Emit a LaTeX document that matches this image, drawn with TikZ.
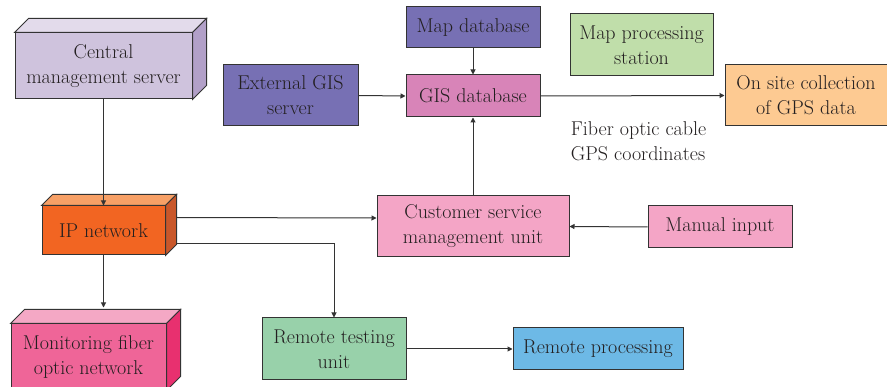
\documentclass[tikz,border=0pt]{standalone}
\usepackage{tikz}
\usetikzlibrary{calc,arrows.meta}

\definecolor{lav}{HTML}{CFC3DD}
\definecolor{lavtop}{HTML}{E3DBEB}
\definecolor{lavside}{HTML}{B2A0C8}
\definecolor{ipor}{HTML}{F26522}
\definecolor{iportop}{HTML}{F7A066}
\definecolor{iporside}{HTML}{C9572A}
\definecolor{mon}{HTML}{EF6598}
\definecolor{montop}{HTML}{F4A8C5}
\definecolor{monside}{HTML}{E8306F}
\definecolor{violet}{HTML}{7770B4}
\definecolor{gisdb}{HTML}{D884B8}
\definecolor{mapst}{HTML}{C0DEAA}
\definecolor{gpsor}{HTML}{FDCA92}
\definecolor{csmu}{HTML}{F4A5C6}
\definecolor{rtest}{HTML}{98D1AA}
\definecolor{rproc}{HTML}{6DB9E6}
\definecolor{edge}{HTML}{333333}
\definecolor{ink}{HTML}{231F20}

% top and right faces of a 3D box: name, top colour, side colour, depth
\newcommand{\boxfaces}[4]{
  \draw[box,fill=#2] (#1.north west) -- ++(#4,-#4) -- ($(#1.north east)+(#4,-#4)$) -- (#1.north east) -- cycle;
  \draw[box,fill=#3] (#1.north east) -- ++(#4,-#4) -- ($(#1.south east)+(#4,-#4)$) -- (#1.south east) -- cycle;
}

\begin{document}
\begin{tikzpicture}[x=1pt,y=-1pt,
    box/.style={draw=edge,line width=1pt,line join=miter},
    blk/.style={box,inner sep=0pt,align=center,font=\fontsize{20}{25}\selectfont,text=ink},
    arr/.style={draw=edge,line width=1pt,-{Triangle[length=5pt,width=5pt]}}]
  \useasboundingbox (0,0) rectangle (887,387);

  % 3D boxes
  \node[blk,fill=lav,minimum width=177pt,minimum height=66pt] (cms) at (103.5,66) {Central\\management server};
  \boxfaces{cms}{lavtop}{lavside}{14}
  \node[blk,fill=ipor,minimum width=123pt,minimum height=49pt] (ip) at (103.5,230.5) {IP network};
  \boxfaces{ip}{iportop}{iporside}{11}
  \node[blk,fill=mon,minimum width=155pt,minimum height=66pt] (mfon) at (88.5,357) {Monitoring fiber\\optic network};
  \boxfaces{mfon}{montop}{monside}{14}

  % flat boxes
  \node[blk,fill=violet,minimum width=135pt,minimum height=61pt] (ext) at (290.5,95.5) {External GIS\\server};
  \node[blk,fill=violet,minimum width=134pt,minimum height=41pt] (mapdb) at (473,27.5) {Map database};
  \node[blk,fill=gisdb,minimum width=134pt,minimum height=42pt] (gis) at (473,96) {GIS database};
  \node[blk,fill=mapst,minimum width=143pt,minimum height=62pt] (mps) at (641.5,45) {Map processing\\station};
  \node[blk,fill=gpsor,minimum width=162pt,minimum height=61pt] (gps) at (806,95.5) {On site collection\\of GPS data};
  \node[blk,fill=csmu,minimum width=192pt,minimum height=61pt] (csm) at (473,226.5) {Customer service\\management unit};
  \node[blk,fill=csmu,minimum width=144pt,minimum height=42pt] (man) at (720,227) {Manual input};
  \node[blk,fill=rtest,minimum width=144pt,minimum height=62pt] (rtu) at (334,349) {Remote testing\\unit};
  \node[blk,fill=rproc,minimum width=170pt,minimum height=42pt] (rp) at (598,349) {Remote processing};
  \node[align=left,inner sep=0pt,font=\fontsize{20}{25}\selectfont,text=ink] (fib) at (638.5,141) {Fiber optic cable\\GPS coordinates};

  % connectors
  \draw[arr] (cms.south) -- (ip.north);
  \draw[arr] (ip.south) -- ($(mfon.north)+(15,-16)$);
  \draw[arr] ($(ip.north east)+(11,12)$) -- (csm.west |- 0,218);
  \draw[arr] ($(ip.north east)+(11,38)$) -| (rtu.north);
  \draw[arr] (csm.north) -- (gis.south);
  \draw[arr] (mapdb.south) -- (gis.north);
  \draw[arr] (ext.east) -- (gis.west);
  \draw[arr] (gis.east) -- (gps.west);
  \draw[arr] (man.west) -- (csm.east);
  \draw[arr] (rtu.east) -- (rp.west);
\end{tikzpicture}
\end{document}
